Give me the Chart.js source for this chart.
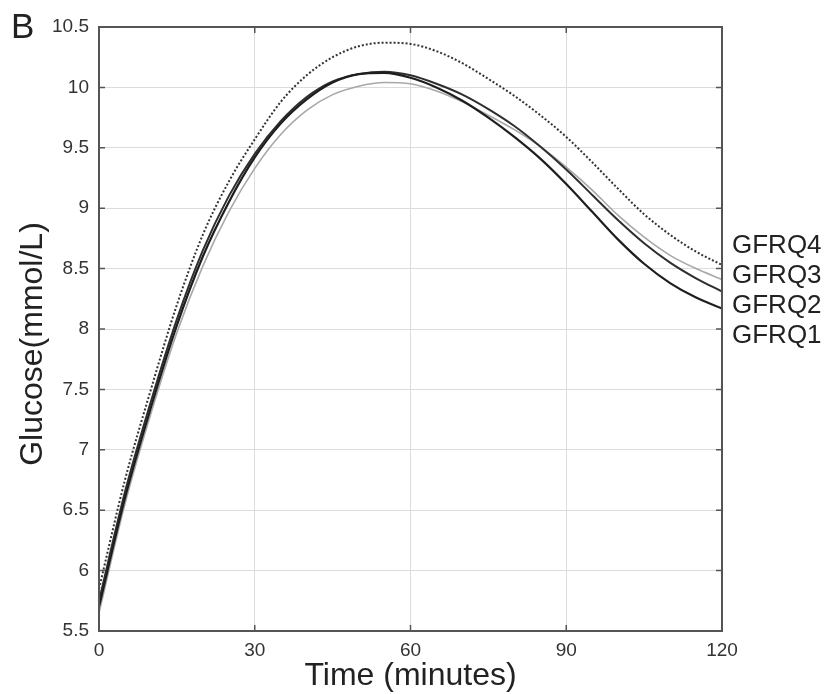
<!DOCTYPE html>
<html>
<head>
<meta charset="utf-8">
<title>Glucose curves</title>
<script src="https://cdn.jsdelivr.net/npm/chart.js@4.4.0/dist/chart.umd.min.js"></script>
<style>
  body { margin: 0; background: #fff; }
  canvas { display: block; }
</style>
</head>
<body>
<canvas id="glucoseChart" width="831" height="694"></canvas>
<script>
// time points (minutes) and glucose values (mmol/L)
var minutes = [0, 5, 10, 15, 20, 25, 30, 35, 40, 45, 50, 55, 60, 65, 70, 75, 80, 85, 90, 95, 100, 105, 110, 115, 120];
var gfrq1 = [5.70, 6.60, 7.35, 8.03, 8.60, 9.05, 9.42, 9.70, 9.90, 10.04, 10.11, 10.12, 10.08, 10.00, 9.89, 9.75, 9.59, 9.41, 9.20, 8.97, 8.74, 8.54, 8.38, 8.26, 8.17];
var gfrq2 = [5.75, 6.65, 7.40, 8.08, 8.65, 9.10, 9.45, 9.72, 9.92, 10.05, 10.11, 10.13, 10.10, 10.03, 9.94, 9.82, 9.68, 9.51, 9.32, 9.11, 8.90, 8.71, 8.55, 8.42, 8.31];
var gfrq3 = [5.65, 6.55, 7.30, 7.97, 8.52, 8.97, 9.33, 9.61, 9.81, 9.94, 10.01, 10.04, 10.03, 9.97, 9.88, 9.77, 9.65, 9.51, 9.34, 9.15, 8.94, 8.76, 8.61, 8.50, 8.41];
var gfrq4 = [5.85, 6.75, 7.50, 8.20, 8.78, 9.22, 9.57, 9.88, 10.10, 10.25, 10.34, 10.37, 10.36, 10.30, 10.20, 10.07, 9.93, 9.77, 9.59, 9.38, 9.16, 8.95, 8.78, 8.64, 8.53];

var seriesNames = ['GFRQ1', 'GFRQ2', 'GFRQ3', 'GFRQ4'];
var xTicks = [0, 30, 60, 90, 120];
var yTicks = [5.5, 6, 6.5, 7, 7.5, 8, 8.5, 9, 9.5, 10, 10.5];

var fontFamily = '"Liberation Sans", Arial, Helvetica, sans-serif';

function toPoints(values) {
  return values.map(function (v, i) { return { x: minutes[i], y: v }; });
}

// white background, box frame, inward ticks, end labels and the extra texts
var figureDecor = {
  id: 'figureDecor',
  beforeDraw: function (chart) {
    var ctx = chart.ctx;
    ctx.save();
    ctx.fillStyle = '#fff';
    ctx.fillRect(0, 0, chart.width, chart.height);
    ctx.restore();
  },
  afterDraw: function (chart) {
    var ctx = chart.ctx;
    var a = chart.chartArea;
    var xs = chart.scales.x, ys = chart.scales.y;
    ctx.save();

    // frame
    ctx.strokeStyle = '#555';
    ctx.lineWidth = 2;
    ctx.strokeRect(a.left, a.top, a.right - a.left, a.bottom - a.top);

    // ticks pointing inwards on all four sides
    ctx.lineWidth = 1.5;
    ctx.beginPath();
    xTicks.forEach(function (t) {
      var px = xs.getPixelForValue(t);
      ctx.moveTo(px, a.bottom); ctx.lineTo(px, a.bottom - 6);
      ctx.moveTo(px, a.top); ctx.lineTo(px, a.top + 6);
    });
    yTicks.forEach(function (t) {
      var py = ys.getPixelForValue(t);
      ctx.moveTo(a.left, py); ctx.lineTo(a.left + 6, py);
      ctx.moveTo(a.right, py); ctx.lineTo(a.right - 6, py);
    });
    ctx.stroke();

    // series names stacked at the right end
    ctx.fillStyle = '#222';
    ctx.font = '26px ' + fontFamily;
    ctx.textAlign = 'left';
    ctx.textBaseline = 'alphabetic';
    var firstBase = ys.getPixelForValue(gfrq4[gfrq4.length - 1]) - 12;
    seriesNames.slice().reverse().forEach(function (name, i) {
      ctx.fillText(name, a.right + 10, firstBase + i * 30);
    });

    // y axis title
    ctx.save();
    ctx.translate(42, 344);
    ctx.rotate(-Math.PI / 2);
    ctx.textAlign = 'center';
    ctx.font = '32px ' + fontFamily;
    ctx.fillText('Glucose(mmol/L)', 0, 0);
    ctx.restore();

    // panel letter
    ctx.font = '35px ' + fontFamily;
    ctx.fillText('B', 11, 38);

    ctx.restore();
  }
};

var ctx = document.getElementById('glucoseChart');
var chart = new Chart(ctx, {
  type: 'line',
  data: {
    datasets: [
      { label: seriesNames[0], data: toPoints(gfrq1), borderColor: '#1e1e1e', borderWidth: 2.2 },
      { label: seriesNames[1], data: toPoints(gfrq2), borderColor: '#2e2e2e', borderWidth: 2 },
      { label: seriesNames[2], data: toPoints(gfrq3), borderColor: '#a8a8a8', borderWidth: 1.6 },
      { label: seriesNames[3], data: toPoints(gfrq4), borderColor: '#333', borderWidth: 2, borderDash: [2, 2] }
    ]
  },
  options: {
    responsive: false,
    animation: false,
    events: [],
    layout: { padding: { top: 27, right: 109, left: 0, bottom: 0 } },
    elements: {
      point: { radius: 0 },
      line: { cubicInterpolationMode: 'monotone', fill: false }
    },
    plugins: {
      legend: { display: false },
      tooltip: { enabled: false }
    },
    scales: {
      x: {
        type: 'linear',
        min: 0,
        max: 120,
        afterBuildTicks: function (axis) { axis.ticks = xTicks.map(function (v) { return { value: v }; }); },
        afterFit: function (scale) { scale.height = 63; },
        grid: { color: '#dcdcdc', lineWidth: 1, drawTicks: false },
        border: { display: false },
        ticks: { padding: 8, maxRotation: 0, color: '#333', font: { family: fontFamily, size: 19 } },
        title: {
          display: true,
          text: 'Time (minutes)',
          color: '#222',
          padding: { top: 0, bottom: 2 },
          font: { family: fontFamily, size: 32, lineHeight: 1 }
        }
      },
      y: {
        type: 'linear',
        min: 5.5,
        max: 10.5,
        afterBuildTicks: function (axis) { axis.ticks = yTicks.map(function (v) { return { value: v }; }); },
        afterFit: function (scale) { scale.width = 99; },
        grid: { color: '#dcdcdc', lineWidth: 1, drawTicks: false },
        border: { display: false },
        ticks: {
          padding: 10,
          color: '#333',
          font: { family: fontFamily, size: 19 },
          callback: function (v) { return String(+v); }
        }
      }
    }
  },
  plugins: [figureDecor]
});
</script>
</body>
</html>
